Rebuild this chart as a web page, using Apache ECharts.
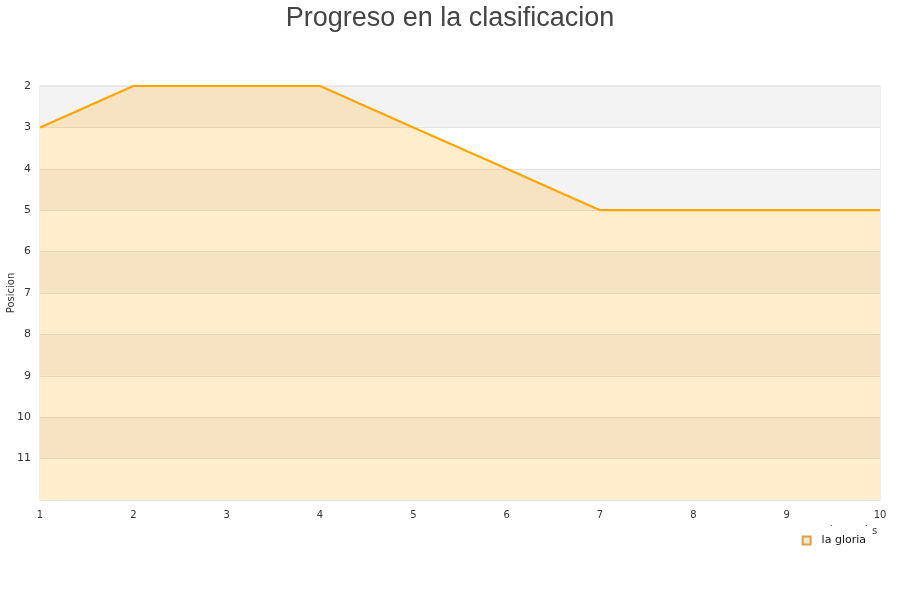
<!DOCTYPE html>
<html>
<head>
<meta charset="utf-8">
<script src="https://cdn.jsdelivr.net/npm/echarts@6/dist/echarts.min.js"></script>
<style>html,body{margin:0;padding:0;background:#fff;}#c{width:900px;height:600px;}</style>
</head>
<body>
<div id="c"></div>
<script>
var jornadas = ['1','2','3','4','5','6','7','8','9','10'];
var posiciones = [3, 2, 2, 2, 3, 4, 5, 5, 5, 5];
var seriesName = 'la gloria';
var yTicks = [2, 3, 4, 5, 6, 7, 8, 9, 10, 11];

var chart = echarts.init(document.getElementById('c'));
chart.setOption({
  animation: false,
  backgroundColor: '#fff',
  title: {
    text: 'Progreso en la clasificacion',
    left: 'center',
    top: 0,
    textStyle: { fontFamily: 'Liberation Sans', fontSize: 27, fontWeight: 'normal', color: '#444' }
  },
  grid: { left: 40, right: 20, top: 86, bottom: 100, show: true, borderColor: '#ddd', borderWidth: 1, backgroundColor: 'transparent', containLabel: false, outerBoundsMode: 'none' },
  legend: {
    data: [{ name: seriesName, icon: 'rect' }],
    right: 29, top: 530,
    itemWidth: 8, itemHeight: 8, itemGap: 10,
    textStyle: { fontFamily: 'DejaVu Sans', fontSize: 11, color: '#111', padding: [0, 0, 0, 6] }
  },
  xAxis: {
    type: 'category',
    data: jornadas,
    boundaryGap: false,
    axisLine: { show: false },
    axisTick: { show: false },
    axisLabel: { fontFamily: 'DejaVu Sans', fontSize: 10, color: '#333', margin: 10 },
    splitLine: { show: false }
  },
  yAxis: {
    type: 'value',
    inverse: true,
    min: 2, max: 12, interval: 1,
    name: 'Posicion',
    nameLocation: 'middle',
    nameGap: 24,
    nameMoveOverlap: false,
    nameTextStyle: { fontFamily: 'DejaVu Sans', fontSize: 10, color: '#333' },
    axisLine: { show: false },
    axisTick: { show: false },
    axisLabel: {
      fontFamily: 'DejaVu Sans', fontSize: 11, color: '#333', margin: 9,
      formatter: function (v) { return yTicks.indexOf(v) >= 0 ? String(v) : ''; }
    },
    splitLine: { show: true, lineStyle: { color: '#e2e2e2', width: 1 } },
    splitArea: { show: true, areaStyle: { color: ['#f3f3f3', '#ffffff'] } }
  },
  graphic: [
    { type: 'text', left: 872, top: 526, style: { text: 's', font: '10px DejaVu Sans', fill: '#333' } },
    { type: 'text', left: 830, top: 520, style: { text: '.', font: '8px DejaVu Sans', fill: '#333' } },
    { type: 'text', left: 865, top: 520, style: { text: '.', font: '8px DejaVu Sans', fill: '#333' } }
  ],
  series: [{
    name: seriesName,
    type: 'line',
    data: posiciones,
    symbol: 'none',
    clip: false,
    lineStyle: { color: '#ffa500', width: 2.2 },
    itemStyle: { color: '#fde9c8', borderColor: '#d9a050', borderWidth: 1 },
    areaStyle: { color: 'rgba(255,165,0,0.2)', opacity: 1, origin: 'end' }
  }]
});
</script>
</body>
</html>
